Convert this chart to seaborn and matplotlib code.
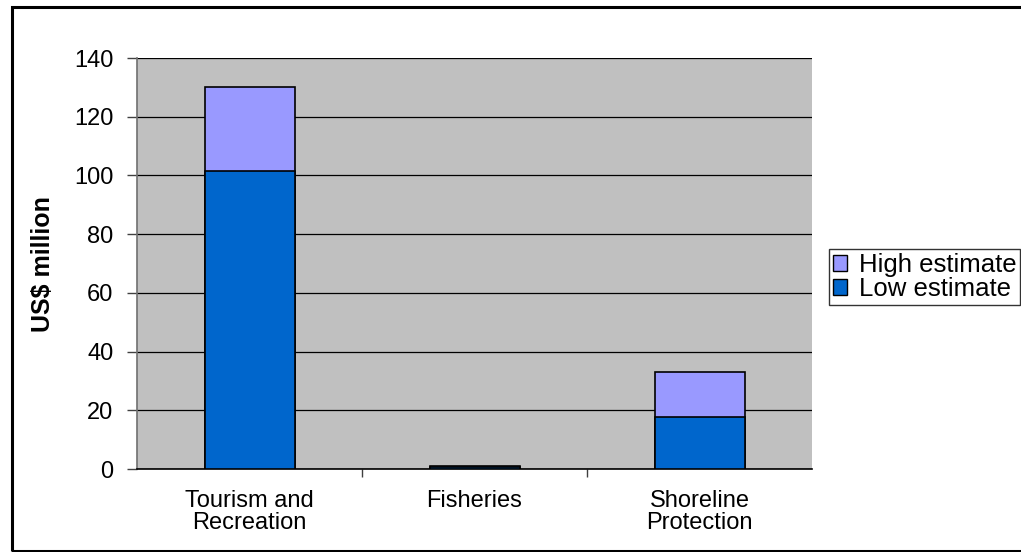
import matplotlib
matplotlib.use("Agg")
import matplotlib.pyplot as plt
import seaborn as sns
import pandas as pd
from matplotlib.patches import Patch, Rectangle

categories = ["Tourism and\nRecreation", "Fisheries", "Shoreline\nProtection"]
low_estimate = [101.5, 0.6, 17.8]
high_estimate = [130.0, 1.0, 33.0]

df = pd.DataFrame({"category": categories, "low": low_estimate, "high": high_estimate})

sns.set_theme(style="white")
plt.rcParams["font.family"] = ["Liberation Sans", "DejaVu Sans"]
plt.rcParams["text.color"] = "black"
plt.rcParams["xtick.color"] = "black"
plt.rcParams["ytick.color"] = "black"

W, H = 1021, 552
fig = plt.figure(figsize=(W / 100, H / 100), dpi=100)
ax = fig.add_axes([137 / W, 1 - 469 / H, 675 / W, 411 / H])

high_color = "#9999FF"
low_color = "#0066CC"

# total (high) bar drawn first, the low estimate stacked over its base
sns.barplot(data=df, x="category", y="high", color=high_color, saturation=1,
            width=0.4, edgecolor="black", linewidth=1.2, ax=ax, zorder=3)
sns.barplot(data=df, x="category", y="low", color=low_color, saturation=1,
            width=0.4, edgecolor="black", linewidth=1.2, ax=ax, zorder=4)

ax.set_facecolor("#C0C0C0")
ax.set_ylim(0, 140)
ax.set_xlim(-0.5, 2.5)
ax.set_yticks(range(0, 141, 20))
ax.yaxis.grid(True, color="black", linewidth=0.9, zorder=1)
ax.set_axisbelow(True)
ax.tick_params(axis="y", labelsize=17, length=7, width=1, direction="out",
               left=True, color="#404040", labelcolor="black", pad=10)
ax.set_xticks([0, 1, 2])
ax.set_xticklabels(categories, linespacing=1.0)
ax.tick_params(axis="x", labelsize=17, length=0, pad=15, labelcolor="black")
ax.set_xticks([0.5, 1.5], minor=True)
ax.tick_params(axis="x", which="minor", length=6, width=1, bottom=True, color="#404040")
ax.set_xlabel("")
ax.set_ylabel("")
fig.text(43 / W, 1 - 264 / H, "US$ million", rotation=90, ha="center", va="center",
         fontsize=18, fontweight="bold", color="black")

for side in ["top", "right"]:
    ax.spines[side].set_visible(False)
ax.spines["left"].set_color("#707070")
ax.spines["bottom"].set_color("black")
ax.spines["left"].set_linewidth(1.2)
ax.spines["bottom"].set_linewidth(1.2)

handles = [Patch(facecolor=high_color, edgecolor="black", label="High estimate"),
           Patch(facecolor=low_color, edgecolor="black", label="Low estimate")]
leg = fig.legend(handles=handles, loc="upper left",
                 bbox_to_anchor=(829 / W, 1 - 249 / H),
                 fontsize=18.5, frameon=True, fancybox=False, edgecolor="black",
                 handlelength=0.55, handleheight=0.55, handletextpad=0.45,
                 borderpad=0.15, labelspacing=0.0, borderaxespad=0)
leg.get_frame().set_linewidth(1)

# chart-area border
fig.patches.append(Rectangle((11.5 / W, 1.5 / H), (1040 - 11.5) / W, (545 - 1.5) / H,
                             transform=fig.transFigure, fill=False,
                             edgecolor="black", linewidth=2.2))

fig.savefig("out.png", dpi=100, facecolor="white")
